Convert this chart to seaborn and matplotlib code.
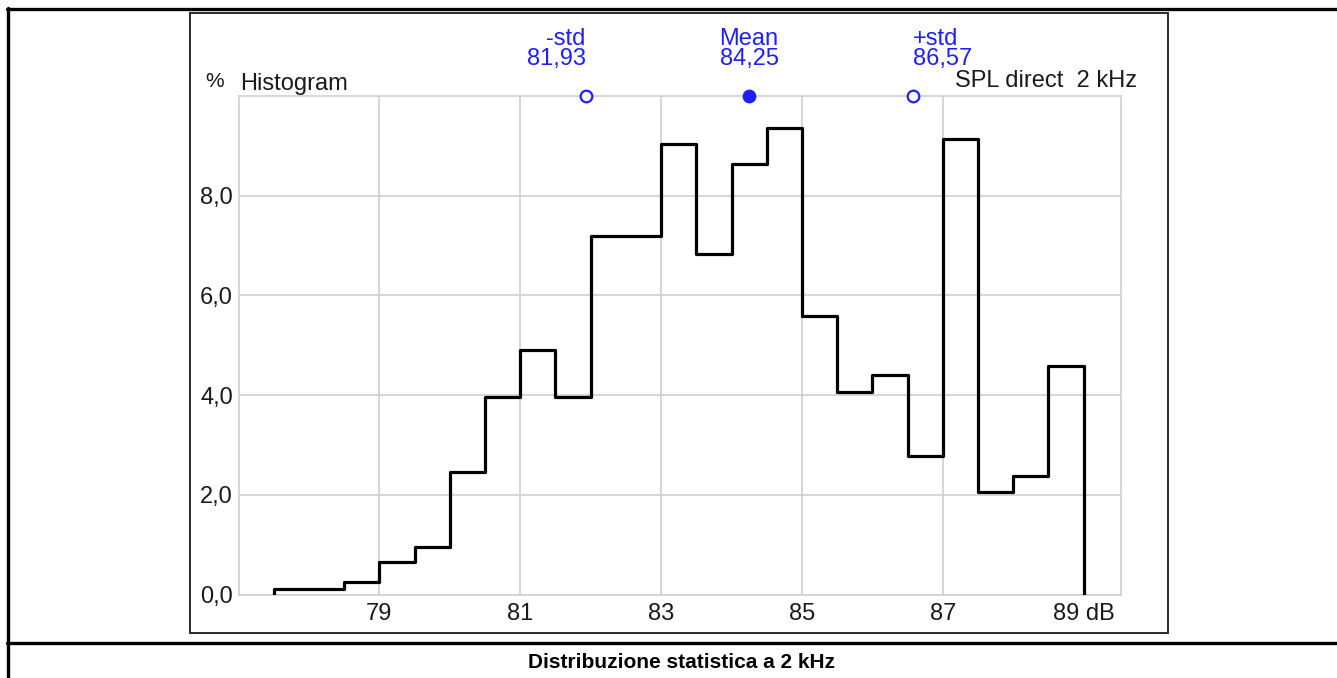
import numpy as np
import pandas as pd
import matplotlib
matplotlib.use("Agg")
import matplotlib.pyplot as plt
import matplotlib.transforms as mtransforms
from matplotlib.lines import Line2D
from matplotlib.patches import Rectangle
import seaborn as sns

# ---------------- data ----------------
bin_left = [77.5, 78.0, 78.5, 79.0, 79.5, 80.0, 80.5, 81.0, 81.5, 82.0, 82.5, 83.0,
            83.5, 84.0, 84.5, 85.0, 85.5, 86.0, 86.5, 87.0, 87.5, 88.0, 88.5]
bin_width = 0.5
percent = [0.12, 0.12, 0.25, 0.65, 0.95, 2.45, 3.97, 4.9, 3.97, 7.2, 7.2, 9.03,
           6.83, 8.63, 9.35, 5.58, 4.06, 4.4, 2.77, 9.14, 2.05, 2.38, 4.59]
stat_names = ["-std", "Mean", "+std"]
stat_values = [81.93, 84.25, 86.57]
stat_labels = ["81,93", "84,25", "86,57"]
x_ticks = [79, 81, 83, 85, 87, 89]
x_tick_labels = ["79", "81", "83", "85", "87", "89 dB"]
y_ticks = [0, 2, 4, 6, 8]
y_tick_labels = ["0,0", "2,0", "4,0", "6,0", "8,0"]
title_left = "Histogram"
title_right = "SPL direct  2 kHz"
y_unit = "%"
caption = "Distribuzione statistica a 2 kHz"

# ---------------- style ----------------
sns.set_theme(style="white")
plt.rcParams["font.family"] = ["Liberation Sans", "DejaVu Sans"]

W, H = 1337, 678
fig = plt.figure(figsize=(W / 100, H / 100), dpi=100)

def fx(x):
    return x / W

def fy(y):
    return 1 - y / H

FS = 17
ax_l, ax_r, ax_t, ax_b = 238.5, 1121, 96, 594.5
ax = fig.add_axes([fx(ax_l), fy(ax_b), fx(ax_r - ax_l), (ax_b - ax_t) / H])

# step outline built from the bins
edges = bin_left + [bin_left[-1] + bin_width]
xs = [edges[0]] + edges + [edges[-1]]
ys = [0] + percent + [percent[-1], 0]
df = pd.DataFrame({"x": xs, "y": ys})
sns.lineplot(data=df, x="x", y="y", drawstyle="steps-post", estimator=None,
             sort=False, color="black", lw=2.3, ax=ax, zorder=3)

ax.set_xlim(77, 89.53)
ax.set_ylim(0, 10)

grid_c = "#cfcfcf"
ax.set_xticks(x_ticks)
ax.set_xticklabels(x_tick_labels)
ax.set_yticks(y_ticks)
ax.set_yticklabels(y_tick_labels)
ax.grid(True, color=grid_c, lw=1.2)
ax.get_xgridlines()[-1].set_visible(False)
for s in ax.spines.values():
    s.set_color(grid_c)
    s.set_linewidth(1.2)
ax.tick_params(axis="x", length=0, pad=6, labelsize=FS, labelcolor="#1a1a1a")
ax.tick_params(axis="y", length=4, width=1.2, color=grid_c, pad=0,
               labelsize=FS, labelcolor="#1a1a1a")

# statistics markers on the top edge
blue = "#1f1fff"
top = [10] * len(stat_values)
sdf = pd.DataFrame({"x": stat_values, "y": top, "kind": stat_names})
sns.scatterplot(data=sdf[sdf["kind"] != "Mean"], x="x", y="y", marker="o", s=70,
                facecolor="white", edgecolor=blue, linewidth=1.6, ax=ax,
                clip_on=False, zorder=5, legend=False)
sns.scatterplot(data=sdf[sdf["kind"] == "Mean"], x="x", y="y", marker="o", s=80,
                color=blue, edgecolor=blue, linewidth=1, ax=ax,
                clip_on=False, zorder=5, legend=False)
ax.set_xlabel("")
ax.set_ylabel("")

trans = mtransforms.blended_transform_factory(ax.transData, ax.transAxes)
aligns = ["right", "center", "left"]
for name, val, lab, ha in zip(stat_names, stat_values, stat_labels, aligns):
    ax.text(val, 1.052, f"{name}\n{lab}", transform=trans, ha=ha, va="bottom",
            fontsize=FS, color=blue, linespacing=0.9)

ax.text(0.002, 1.012, title_left, transform=ax.transAxes, ha="left",
        va="baseline", fontsize=FS, color="#1a1a1a")
ax.text(-0.038, 1.018, y_unit, transform=ax.transAxes, ha="left",
        va="baseline", fontsize=15, color="#1a1a1a")
ax.text(1.018, 1.018, title_right, transform=ax.transAxes, ha="right",
        va="baseline", fontsize=FS, color="#1a1a1a")

# page / table decoration
fig.add_artist(Line2D([fx(7), fx(W)], [fy(9), fy(9)], transform=fig.transFigure,
                      color="black", lw=2.4))
fig.add_artist(Line2D([fx(7.5), fx(7.5)], [fy(8), fy(H)], transform=fig.transFigure,
                      color="black", lw=2.4))
fig.add_artist(Line2D([fx(7), fx(W)], [fy(643), fy(643)], transform=fig.transFigure,
                      color="black", lw=2.4))
fig.add_artist(Rectangle((fx(190), fy(633)), fx(1168 - 190), (633 - 12.5) / H,
                         transform=fig.transFigure, fill=False,
                         edgecolor="#2a2a2a", lw=1.4))
fig.text(fx(681), fy(662), caption, ha="center", va="center", fontsize=15,
         fontweight="bold", color="black")

fig.savefig("out.png", dpi=100)
